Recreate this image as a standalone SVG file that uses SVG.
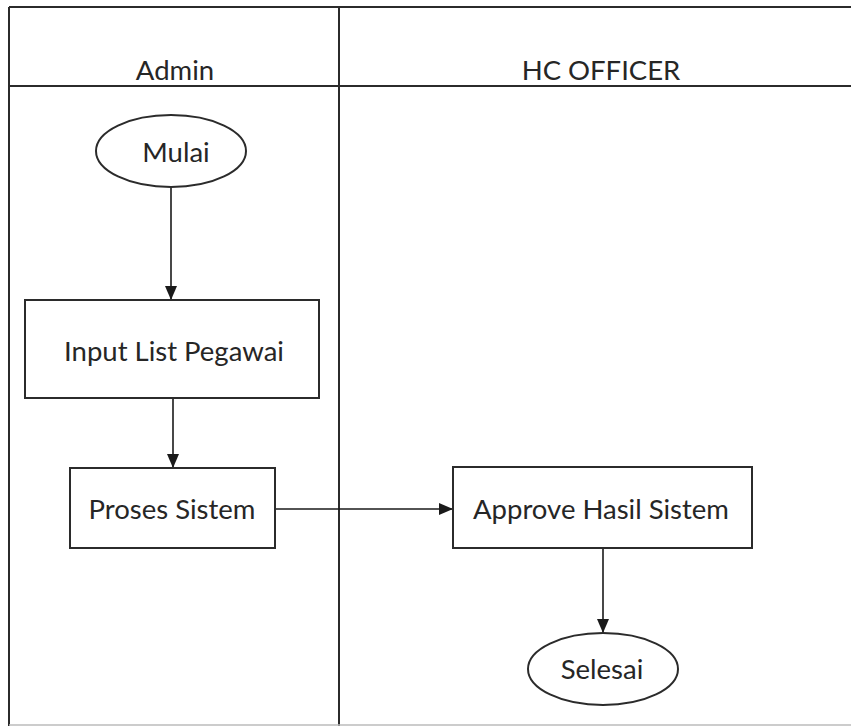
<svg xmlns="http://www.w3.org/2000/svg" width="851" height="726" viewBox="0 0 851 726">
<defs>
<style>
.lane{fill:none;stroke:#2b2b2b;stroke-width:2}
.shape{fill:#fff;stroke:#2b2b2b;stroke-width:2}
.edge{fill:none;stroke:#1a1a1a;stroke-width:1.6}
text{font-family:Lato,"Open Sans","Liberation Sans",sans-serif;font-size:27.5px;fill:#262626;text-anchor:middle;dominant-baseline:central}
</style>
<marker id="arr" viewBox="0 0 14 12" refX="14" refY="6" markerWidth="14" markerHeight="12" markerUnits="userSpaceOnUse" orient="auto">
<path d="M0,0 L14,6 L0,12 z" fill="#1a1a1a"/>
</marker>
</defs>
<rect width="851" height="726" fill="#fff"/>
<g id="lanes">
<line class="lane" x1="9" y1="7" x2="851" y2="7"/>
<line class="lane" x1="9" y1="86" x2="851" y2="86"/>
<line class="lane" x1="9" y1="7" x2="9" y2="726"/>
<line class="lane" x1="339" y1="7" x2="339" y2="726"/>
<line x1="9" y1="725" x2="851" y2="725" stroke="#bbb" stroke-width="1.5"/>
<text x="175" y="69">Admin</text>
<text x="601" y="69">HC OFFICER</text>
</g>
<g id="connectors">
<line class="edge" x1="171" y1="187" x2="171" y2="300" marker-end="url(#arr)"/>
<line class="edge" x1="173" y1="398" x2="173" y2="468" marker-end="url(#arr)"/>
<line class="edge" x1="275" y1="509" x2="453" y2="509" marker-end="url(#arr)"/>
<line class="edge" x1="603" y1="548" x2="603" y2="633" marker-end="url(#arr)"/>
</g>
<g id="mulai">
<ellipse class="shape" cx="171" cy="151" rx="75" ry="36"/>
<text x="176" y="151">Mulai</text>
</g>
<g id="input">
<rect class="shape" x="25" y="300" width="294" height="98"/>
<text x="174" y="350">Input List Pegawai</text>
</g>
<g id="proses">
<rect class="shape" x="70" y="468" width="205" height="80"/>
<text x="172" y="508">Proses Sistem</text>
</g>
<g id="approve">
<rect class="shape" x="453" y="467" width="299" height="81"/>
<text x="601" y="508">Approve Hasil Sistem</text>
</g>
<g id="selesai">
<ellipse class="shape" cx="603" cy="669" rx="75" ry="36"/>
<text x="602" y="668">Selesai</text>
</g>
</svg>
